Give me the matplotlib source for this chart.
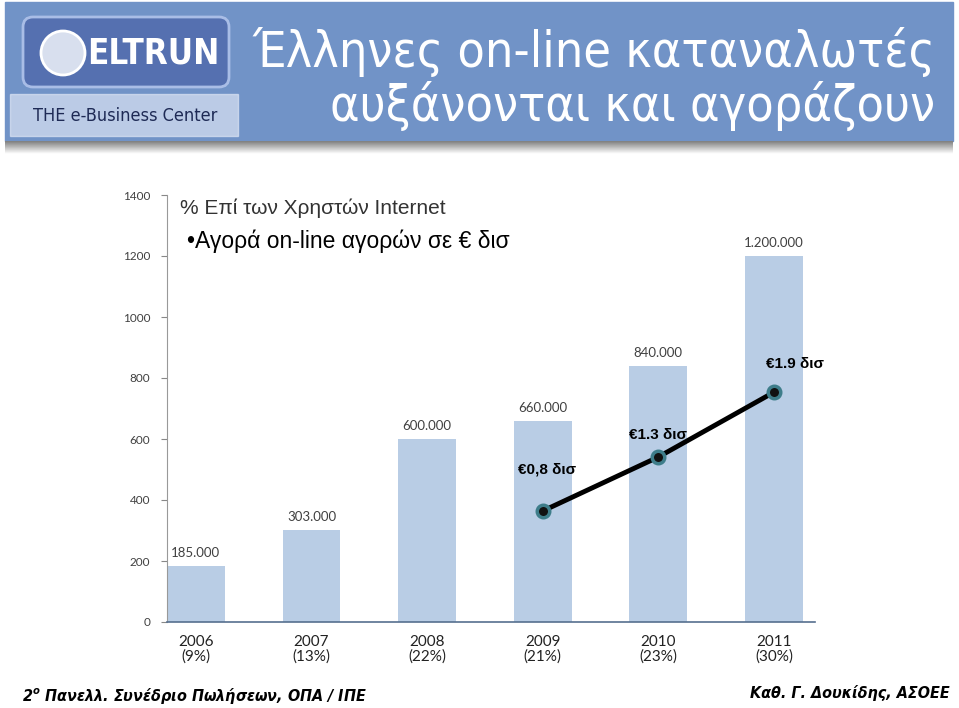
import matplotlib
matplotlib.use('Agg')
import os
import numpy as np
from matplotlib import pyplot as plt
from matplotlib import font_manager
from matplotlib.font_manager import FontProperties
from matplotlib.patches import Rectangle, FancyBboxPatch, Circle

years = ['2006', '2007', '2008', '2009', '2010', '2011']
shares = ['(9%)', '(13%)', '(22%)', '(21%)', '(23%)', '(30%)']
buyers = [185, 303, 600, 660, 840, 1200]          # thousands
buyer_labels = ['185.000', '303.000', '600.000', '660.000', '840.000', '1.200.000']
market_years = ['2009', '2010', '2011']
market_bn = [0.8, 1.3, 1.9]
market_labels = ['€0,8 δισ', '€1.3 δισ', '€1.9 δισ']


def find_font(*keys):
    # look for a condensed / narrow face by file name
    for f in font_manager.fontManager.ttflist:
        base = os.path.basename(f.fname)
        if all(k in base for k in keys):
            return f.fname
    return None


def fp(fname, size, fallback_family, **kw):
    if fname:
        return FontProperties(fname=fname, size=size)
    return FontProperties(family=fallback_family, size=size, **kw)


cond = find_font('LiberationSansNarrow-Regular') or find_font('DejaVuSansCondensed.ttf')
cond_b = find_font('LiberationSansNarrow-Bold.') or find_font('DejaVuSansCondensed-Bold.ttf')
cond_bi = (find_font('LiberationSansNarrow-BoldItalic') or
           find_font('DejaVuSansCondensed-BoldOblique'))

W, H = 959, 708
fig = plt.figure(figsize=(W / 100, H / 100), dpi=100)

# background / decorations in pixel coordinates
bg = fig.add_axes([0, 0, 1, 1])
bg.set_xlim(0, W)
bg.set_ylim(H, 0)
bg.axis('off')

# header band and shadow
bg.add_patch(Rectangle((5, 2), 948, 139, color='#7193C7', zorder=1))
shade = np.linspace(0.5, 1.0, 20).reshape(-1, 1)
bg.imshow(shade, cmap='gray', vmin=0, vmax=1, extent=(5, 953, 154, 141),
          aspect='auto', zorder=1)
# logo
bg.add_patch(Rectangle((10, 94), 228, 42, color='#DCE4F4', alpha=0.7, zorder=2))
bg.add_patch(FancyBboxPatch((26, 20), 200, 64, boxstyle='round,pad=3,rounding_size=10',
                            fc='#5570B0', ec='#A9BDE6', lw=2, zorder=2))
bg.add_patch(Circle((63, 53), 22, fc='#D8DFEE', ec='white', lw=2, zorder=3))
bg.text(153, 54, 'ELTRUN', color='white',
        fontproperties=fp(cond_b, 25, 'Liberation Sans', weight='bold'),
        ha='center', va='center', zorder=3)
bg.text(125, 116, 'THE e-Business Center', color='#1E2A55',
        fontproperties=fp(cond, 13, 'Liberation Sans', style='italic'),
        ha='center', va='center', zorder=3)
# title
tsize = 36 if cond else 34
bg.text(935, 52, 'Έλληνες on-line καταναλωτές', color='white',
        fontproperties=fp(cond, tsize, 'Liberation Sans'),
        ha='right', va='center', zorder=3)
bg.text(935, 106, 'αυξάνονται και αγοράζουν', color='white',
        fontproperties=fp(cond, tsize, 'Liberation Sans'),
        ha='right', va='center', zorder=3)
# chart notes
bg.text(180, 208, '% Επί των Χρηστών Internet', color='#333333', fontsize=15,
        family='Liberation Sans', ha='left', va='center', zorder=3)
bg.text(187, 241, '•Αγορά on-line αγορών σε € δισ', color='black', fontsize=16.5,
        family='Liberation Sans', ha='left', va='center', zorder=3)
# footer
fsize = 11.5 if cond_bi else 11
bg.text(22, 696, '2$^{\\mathregular{o}}$ Πανελλ. Συνέδριο Πωλήσεων, ΟΠΑ / ΙΠΕ', color='black',
        fontproperties=fp(cond_bi, fsize, 'Liberation Sans', weight='bold', style='italic'),
        ha='left', va='center', zorder=3)
bg.text(950, 693, 'Καθ. Γ. Δουκίδης, ΑΣΟΕΕ', color='black',
        fontproperties=fp(cond_bi, fsize, 'Liberation Sans', weight='bold', style='italic'),
        ha='right', va='center', zorder=3)

# bar chart
x0, x1, y0, y1 = 167, 815, 622, 195
ax = fig.add_axes([x0 / W, (H - y0) / H, (x1 - x0) / W, (y0 - y1) / H])
ax.patch.set_alpha(0)
pos = np.arange(len(years))
ax.bar(pos, buyers, width=0.5, color='#B9CDE5', zorder=2)
for p, v, lab in zip(pos, buyers, buyer_labels):
    ax.annotate(lab, (p, v), xytext=(0, 5), textcoords='offset points',
                ha='center', va='bottom', fontsize=9.5, family='Lato',
                color='#404040')
ax.set_xlim(-0.25, 5.355)
ax.set_ylim(0, 1400)
ax.set_yticks(range(0, 1401, 200))
ax.tick_params(axis='y', direction='out', length=4, color='#888888',
               labelsize=8.5, labelcolor='#404040', pad=8)
for t in ax.get_yticklabels():
    t.set_family('Lato')
ax.set_xticks(pos)
ax.set_xticklabels([y + '\n' + s for y, s in zip(years, shares)],
                   fontsize=11, family='Lato', color='#222222', linespacing=1.1)
ax.tick_params(axis='x', length=0, pad=9)
for s in ['top', 'right']:
    ax.spines[s].set_visible(False)
ax.spines['left'].set_color('#999999')
ax.spines['bottom'].set_color('#56708F')
ax.spines['bottom'].set_linewidth(1.2)

# market line on a hidden second scale
ax2 = ax.twinx()
ax2.set_ylim(-0.228, 3.726)
ax2.axis('off')
mpos = [years.index(y) for y in market_years]
ax2.plot(mpos, market_bn, color='black', lw=3.5, zorder=4,
         marker='o', markersize=9, markerfacecolor='#111111',
         markeredgecolor='#3E7D8A', markeredgewidth=2.5)
offsets = [(3, 30), (0, 16), (15, 20)]
for p, v, lab, off in zip(mpos, market_bn, market_labels, offsets):
    ax2.annotate(lab, (p, v), xytext=off, textcoords='offset points',
                 ha='center', va='center', fontsize=11, family='Liberation Sans',
                 fontweight='bold', color='black', zorder=5)

plt.savefig('out.png', dpi=100)
plt.close('all')
